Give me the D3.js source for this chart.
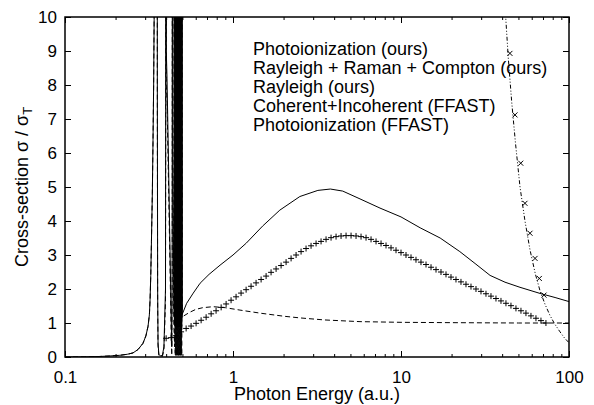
<!DOCTYPE html>
<html>
<head>
<meta charset="utf-8">
<script src="https://cdn.jsdelivr.net/npm/d3@7"></script>
<style>
  body { margin: 0; background: #fff; }
  text { font-family: "Liberation Sans", Arial, Helvetica, sans-serif; fill: #000; }
</style>
</head>
<body>
<div id="chart"></div>
<script>
// ---- values ----
var xTicks = [0.1, 1, 10, 100];
var xTickLabels = ["0.1", "1", "10", "100"];
var yTicks = [0, 1, 2, 3, 4, 5, 6, 7, 8, 9, 10];
var legendLabels = [
    "Photoionization (ours)",
    "Rayleigh + Raman + Compton (ours)",
    "Rayleigh (ours)",
    "Coherent+Incoherent (FFAST)",
    "Photoionization (FFAST)"
];

// photoionization (ours), dash-dot
var photoE = [38, 41.5, 43.5, 45.6, 48, 51.1, 54.7, 58.6, 63, 67.2, 72, 77.1, 82, 88.4, 94, 100];
var photoS = [14.0, 10.4, 8.8, 7.5, 6.3, 5.0, 4.0, 3.15, 2.45, 1.95, 1.55, 1.22, 0.98, 0.74, 0.56, 0.42];

// below the first resonance both scattering curves coincide
var lowE = [0.100, 0.130, 0.160, 0.185, 0.212, 0.235, 0.254, 0.272, 0.291, 0.303, 0.312, 0.318, 0.321, 0.324, 0.327, 0.331, 0.334, 0.337, 0.340, 0.343, 0.348];
var lowS = [0.00, 0.005, 0.015, 0.03, 0.05, 0.08, 0.12, 0.22, 0.40, 0.62, 0.90, 1.25, 1.70, 2.4, 3.4, 4.8, 6.3, 8.0, 10.5, 15, 40];

// resonance region up to the 0.5 a.u. edge (values above 10 are clipped)
var resE = [0.352, 0.3545, 0.356, 0.358, 0.362, 0.370, 0.380, 0.388, 0.3964, 0.398, 0.3990,
    0.3995, 0.4008, 0.4048, 0.4136, 0.4223, 0.4282, 0.4320, 0.4347, 0.4365,
    0.4375, 0.4395, 0.444, 0.449,
    0.4505, 0.4519, 0.4527, 0.4536, 0.4550, 0.4559, 0.4568, 0.4582, 0.4590, 0.4599, 0.4613, 0.4622,
    0.4631, 0.4645, 0.4654, 0.4663, 0.4677, 0.4686, 0.4695, 0.4709, 0.4718, 0.4728, 0.4742, 0.4751,
    0.4761, 0.4775, 0.4784, 0.4794, 0.4808, 0.4817, 0.4827, 0.4841, 0.4850, 0.4860, 0.4874, 0.4883,
    0.4893, 0.4907, 0.4917, 0.4927, 0.4941, 0.4951, 0.4961, 0.4975, 0.4988];
var totalResS = [40, 8, 2, 0.4, 0.08, 0.03, 0.05, 0.3, 2, 10, 40,
    40, 9, 8.2, 5.6, 3.0, 1.2, 0.3, 3, 40,
    40, 6, 1.5, 1.0,
    40, 40, 0.9, 40, 40, 0.9, 40, 40, 0.9, 40, 40, 0.9,
    40, 40, 0.9, 40, 40, 0.9, 40, 40, 0.9, 40, 40, 0.9,
    40, 40, 0.9, 40, 40, 0.9, 40, 40, 0.9, 40, 40, 0.9,
    40, 40, 0.9, 40, 40, 0.9, 40, 40, 1.25];
var rayResS = [40, 7, 1.5, 0.3, 0.05, 0.01, 0.02, 0.2, 1.6, 8, 40,
    40, 8, 7.5, 5.0, 2.5, 0.8, 0.05, 2.5, 40,
    40, 5, 1.0, 0.3,
    40, 40, 0.05, 40, 40, 0.05, 40, 40, 0.05, 40, 40, 0.05,
    40, 40, 0.05, 40, 40, 0.05, 40, 40, 0.05, 40, 40, 0.05,
    40, 40, 0.05, 40, 40, 0.05, 40, 40, 0.05, 40, 40, 0.05,
    40, 40, 0.05, 40, 40, 0.05, 40, 40, 1.15];

// Rayleigh + Raman + Compton (ours), solid, above 0.5 a.u.
var totalHighE = [0.502, 0.53, 0.58, 0.637, 0.72, 0.837, 1.0, 1.2, 1.5, 1.9, 2.5, 3.2, 3.8, 4.5, 5.7, 7.5, 10, 13, 17.1, 22.4, 27.6, 33.9, 41.6, 51.1, 67.2, 82.6, 100];
var totalHighS = [1.29, 1.58, 1.88, 2.17, 2.43, 2.70, 3.0, 3.35, 3.85, 4.32, 4.72, 4.90, 4.94, 4.88, 4.65, 4.38, 4.12, 3.80, 3.50, 3.10, 2.75, 2.40, 2.20, 2.05, 1.87, 1.75, 1.63];

// Rayleigh (ours), dashed, above 0.5 a.u.
var rayHighE = [0.502, 0.55, 0.60, 0.66, 0.76, 0.9, 1.1, 1.45, 2.0, 2.5, 3.5, 5.7, 10, 20, 50, 100];
var rayHighS = [1.19, 1.31, 1.40, 1.45, 1.48, 1.45, 1.38, 1.29, 1.20, 1.15, 1.09, 1.04, 1.02, 1.01, 1.00, 1.00];

// Coherent+Incoherent (FFAST), plus markers
var ffastCohE = [0.400, 0.428, 0.459, 0.491, 0.526, 0.563, 0.603, 0.646, 0.692, 0.741, 0.793, 0.850, 0.910, 0.974, 1.043, 1.117,
    1.197, 1.281, 1.372, 1.470, 1.574, 1.685, 1.805, 1.933, 2.070, 2.217, 2.374, 2.542, 2.722, 2.915, 3.122, 3.343,
    3.580, 3.834, 4.106, 4.397, 4.709, 5.043, 5.400, 5.783, 6.193, 6.632, 7.102, 7.606, 8.145, 8.722, 9.341, 10.00,
    10.71, 11.47, 12.28, 13.15, 14.09, 15.09, 16.16, 17.30, 18.53, 19.84, 21.25, 22.75, 24.37, 26.10, 27.95, 29.93,
    32.05, 34.32, 36.76, 39.36, 42.15, 45.14, 48.34, 51.77, 55.44, 59.37, 63.58, 68.09, 72.90];
var ffastCohS = [0.55, 0.57, 0.63, 0.74, 0.84, 0.91, 0.99, 1.08, 1.17, 1.27, 1.36, 1.46, 1.56, 1.67, 1.77, 1.88,
    1.98, 2.08, 2.18, 2.28, 2.38, 2.49, 2.59, 2.69, 2.79, 2.90, 3.00, 3.10, 3.19, 3.27, 3.34, 3.40,
    3.46, 3.51, 3.54, 3.56, 3.57, 3.57, 3.56, 3.54, 3.51, 3.46, 3.40, 3.34, 3.28, 3.21, 3.14, 3.07,
    3.00, 2.93, 2.86, 2.79, 2.72, 2.64, 2.57, 2.50, 2.43, 2.35, 2.28, 2.21, 2.14, 2.07, 2.00, 1.93,
    1.86, 1.79, 1.72, 1.65, 1.58, 1.51, 1.43, 1.36, 1.29, 1.21, 1.14, 1.07, 1.00];

// Photoionization (FFAST), cross markers
var ffastPhotoE = [44.5, 47.7, 51.6, 54.7, 58.6, 62.8, 66.6, 71.0];
var ffastPhotoS = [8.93, 7.12, 5.70, 4.52, 3.64, 2.90, 2.31, 1.82];

// ---- chart ----
var svgWidth = 594;
var svgHeight = 405;
var margin = { top: 17, bottom: 48, left: 65, right: 25 };
var chartWidth = svgWidth - margin.left - margin.right;
var chartHeight = svgHeight - margin.top - margin.bottom;

var svg = d3.select("#chart")
    .append("svg")
    .attr("width", svgWidth)
    .attr("height", svgHeight);

var chartGroup = svg.append("g")
    .attr("transform", `translate(${margin.left},${margin.top})`);

var xScale = d3.scaleLog().domain([0.1, 100]).range([0, chartWidth]);
var yScale = d3.scaleLinear().domain([0, 10]).range([chartHeight, 0]);

chartGroup.append("clipPath")
    .attr("id", "plotclip")
    .append("rect")
    .attr("width", chartWidth)
    .attr("height", chartHeight);

// axes, ticks pointing inward, mirrored on top/right
var minorTicks = xScale.ticks().filter(d => xTicks.indexOf(d) < 0);

function styleAxis(g, size) {
    g.select(".domain").remove();
    g.selectAll(".tick line").attr("stroke", "#000").attr("stroke-width", 1);
    g.selectAll(".tick text").style("font-size", size);
}

chartGroup.append("g")
    .attr("transform", `translate(0,${chartHeight})`)
    .call(d3.axisBottom(xScale).tickValues(xTicks)
        .tickFormat((d, i) => xTickLabels[i])
        .tickSizeInner(-6).tickSizeOuter(0).tickPadding(14))
    .call(g => styleAxis(g, "17px"));

chartGroup.append("g")
    .attr("transform", `translate(0,${chartHeight})`)
    .call(d3.axisBottom(xScale).tickValues(minorTicks).tickFormat("")
        .tickSizeInner(-3).tickSizeOuter(0))
    .call(g => styleAxis(g, "0px"));

chartGroup.append("g")
    .call(d3.axisTop(xScale).tickValues(xTicks).tickFormat("")
        .tickSizeInner(-6).tickSizeOuter(0))
    .call(g => styleAxis(g, "0px"));

chartGroup.append("g")
    .call(d3.axisTop(xScale).tickValues(minorTicks).tickFormat("")
        .tickSizeInner(-3).tickSizeOuter(0))
    .call(g => styleAxis(g, "0px"));

chartGroup.append("g")
    .call(d3.axisLeft(yScale).tickValues(yTicks)
        .tickSizeInner(-6).tickSizeOuter(0).tickPadding(8))
    .call(g => styleAxis(g, "17px"));

chartGroup.append("g")
    .attr("transform", `translate(${chartWidth},0)`)
    .call(d3.axisRight(yScale).tickValues(yTicks).tickFormat("")
        .tickSizeInner(-6).tickSizeOuter(0))
    .call(g => styleAxis(g, "0px"));

// curves
var line = d3.line()
    .x(d => xScale(d[0]))
    .y(d => yScale(d[1]));

var curves = chartGroup.append("g").attr("clip-path", "url(#plotclip)");

curves.append("path")
    .datum(d3.zip(photoE, photoS))
    .attr("d", line)
    .attr("fill", "none")
    .attr("stroke", "#000")
    .attr("stroke-width", 1)
    .attr("stroke-dasharray", "4,2,1,2,1,2");

curves.append("path")
    .datum(d3.zip(lowE.concat(resE, totalHighE), lowS.concat(totalResS, totalHighS)))
    .attr("d", line)
    .attr("fill", "none")
    .attr("stroke", "#000")
    .attr("stroke-width", 1);

curves.append("path")
    .datum(d3.zip(lowE.concat(resE, rayHighE), lowS.concat(rayResS, rayHighS)))
    .attr("d", line)
    .attr("fill", "none")
    .attr("stroke", "#000")
    .attr("stroke-width", 1)
    .attr("stroke-dasharray", "5,3");

// plus markers
curves.append("g")
    .selectAll("path")
    .data(d3.zip(ffastCohE, ffastCohS))
    .enter()
    .append("path")
        .attr("transform", d => `translate(${xScale(d[0])},${yScale(d[1])})`)
        .attr("d", "M-3,0H3M0,-3V3")
        .attr("stroke", "#000")
        .attr("stroke-width", 1);

// cross markers
curves.append("g")
    .selectAll("path")
    .data(d3.zip(ffastPhotoE, ffastPhotoS))
    .enter()
    .append("path")
        .attr("transform", d => `translate(${xScale(d[0])},${yScale(d[1])})`)
        .attr("d", "M-2.5,-2.5L2.5,2.5M-2.5,2.5L2.5,-2.5")
        .attr("stroke", "#000")
        .attr("stroke-width", 1);

// border
chartGroup.append("rect")
    .attr("width", chartWidth)
    .attr("height", chartHeight)
    .attr("fill", "none")
    .attr("stroke", "#000")
    .attr("stroke-width", 1.5);

// legend (text only)
chartGroup.append("g")
    .selectAll("text")
    .data(legendLabels)
    .enter()
    .append("text")
        .attr("x", 253 - margin.left)
        .attr("y", (d, i) => 48.5 - margin.top + i * 19)
        .attr("dy", "0.35em")
        .style("font-size", "18px")
        .text(d => d);

// axis labels
svg.append("text")
    .attr("x", margin.left + chartWidth / 2)
    .attr("y", 400)
    .attr("text-anchor", "middle")
    .style("font-size", "18px")
    .text("Photon Energy (a.u.)");

var yLabel = svg.append("text")
    .attr("transform", `translate(28,${margin.top + chartHeight / 2}) rotate(-90)`)
    .attr("text-anchor", "middle")
    .style("font-size", "18px");
yLabel.append("tspan").text("Cross-section σ / σ");
yLabel.append("tspan").attr("dy", "0.3em").style("font-size", "13px").text("T");
</script>
</body>
</html>
